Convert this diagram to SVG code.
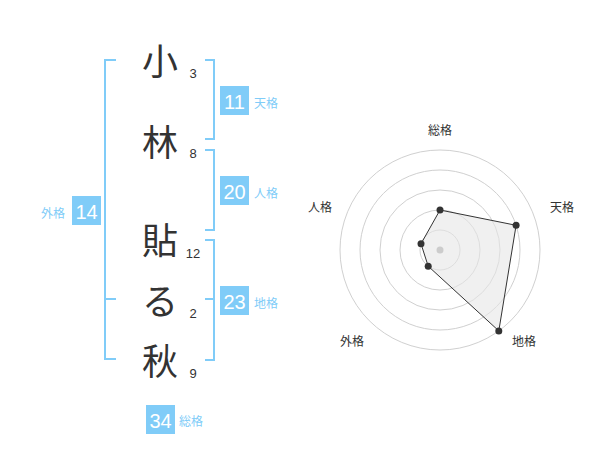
<svg xmlns="http://www.w3.org/2000/svg" width="600" height="470" viewBox="0 0 600 470">
<style>
.kanji{font-family:"Noto Sans CJK JP","Noto Sans CJK SC",sans-serif;font-size:36px;fill:#333;text-anchor:middle}
.num{font-family:"Liberation Sans",Arial,sans-serif;font-size:13px;fill:#333;text-anchor:middle}
.br{fill:none;stroke:#80ccf8;stroke-width:2}
.badge{fill:#80ccf8}
.bt{font-family:"Liberation Sans",Arial,sans-serif;font-size:20px;fill:#fff;text-anchor:middle}
.lab{font-family:"Noto Sans CJK JP","Noto Sans CJK SC",sans-serif;font-size:12px;fill:#80ccf8}
.rl{font-family:"Noto Sans CJK JP","Noto Sans CJK SC",sans-serif;font-size:12px;fill:#333;text-anchor:middle}
.ring{fill:none;stroke:#d0d0d0;stroke-width:1}
.pt{fill:#333}
</style>
<rect width="600" height="470" fill="#fff"/>
<g id="connectors">
<path class="br" d="M116,60 H105 V359 H116 M105,299 H116"/>
<path class="br" d="M205,60 H214 V139 H205"/>
<path class="br" d="M205,150 H214 V230 H205"/>
<path class="br" d="M205,240 H214 V360 H205 M205,299 H214"/>
</g>
<g id="char1"><text class="kanji" x="160" y="75">小</text><text class="num" x="193" y="77.5">3</text></g>
<g id="char2"><text class="kanji" x="160" y="156">林</text><text class="num" x="193" y="157.5">8</text></g>
<g id="char3"><text class="kanji" x="160" y="254">貼</text><text class="num" x="193" y="257.5">12</text></g>
<g id="char4"><text class="kanji" x="160" y="315">る</text><text class="num" x="193" y="318">2</text></g>
<g id="char5"><text class="kanji" x="160" y="375">秋</text><text class="num" x="193" y="378">9</text></g>
<g id="tenkaku"><rect class="badge" x="220" y="86" width="29" height="29"/><text class="bt" x="234.5" y="109">11</text><text class="lab" x="254" y="108">天格</text></g>
<g id="jinkaku"><rect class="badge" x="220" y="176" width="29" height="29"/><text class="bt" x="234.5" y="199">20</text><text class="lab" x="254" y="197.5">人格</text></g>
<g id="chikaku"><rect class="badge" x="220" y="286" width="29" height="29"/><text class="bt" x="234.5" y="309">23</text><text class="lab" x="254" y="307.5">地格</text></g>
<g id="gaikaku"><rect class="badge" x="72" y="196" width="29" height="29"/><text class="bt" x="86.5" y="219">14</text><text class="lab" x="65" y="218" text-anchor="end">外格</text></g>
<g id="soukaku"><rect class="badge" x="146" y="405" width="29" height="29"/><text class="bt" x="160.5" y="428">34</text><text class="lab" x="179" y="426">総格</text></g>
<g id="radar">
<circle class="ring" cx="440" cy="250" r="20"/>
<circle class="ring" cx="440" cy="250" r="40"/>
<circle class="ring" cx="440" cy="250" r="60"/>
<circle class="ring" cx="440" cy="250" r="80"/>
<circle class="ring" cx="440" cy="250" r="100"/>
<polygon points="440,210 516.1,225.3 498.8,330.9 428.2,266.2 421,243.8" fill="#e6e6e6" fill-opacity="0.6" stroke="#333" stroke-width="1"/>
<circle cx="440" cy="250" r="3.5" fill="#ccc"/>
<circle class="pt" cx="440" cy="210" r="3.5"/>
<circle class="pt" cx="516.1" cy="225.3" r="3.5"/>
<circle class="pt" cx="498.8" cy="330.9" r="3.5"/>
<circle class="pt" cx="428.2" cy="266.2" r="3.5"/>
<circle class="pt" cx="421" cy="243.8" r="3.5"/>
<text class="rl" x="440" y="135">総格</text>
<text class="rl" x="562" y="212">天格</text>
<text class="rl" x="320" y="212">人格</text>
<text class="rl" x="352" y="346">外格</text>
<text class="rl" x="524" y="346">地格</text>
</g>
</svg>
